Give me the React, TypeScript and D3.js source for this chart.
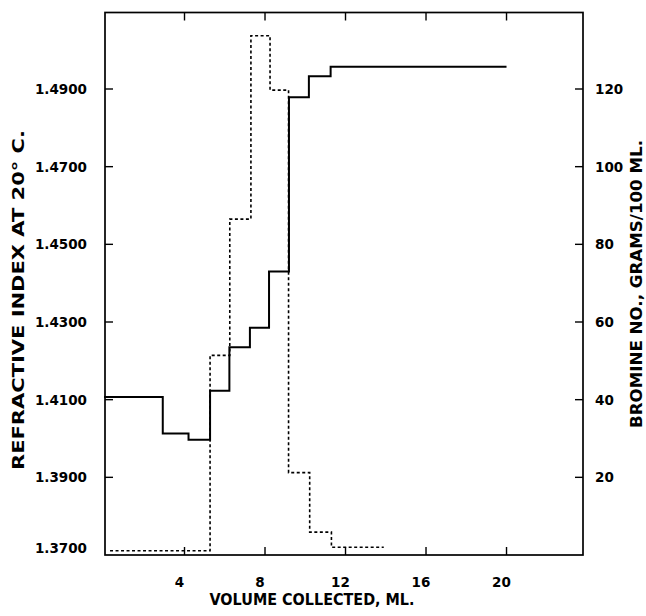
import React from "react";
import * as d3 from "d3";

// Fraction boundaries (ml collected) and refractive index of each fraction
const riEdges = [0, 2.92, 4.2, 5.27, 6.23, 7.25, 8.2, 9.19, 10.18, 11.26, 20];
const riValues = [1.4107, 1.4013, 1.3997, 1.4123, 1.4235, 1.4285, 1.443, 1.4879, 1.4933, 1.4957];

// Fraction boundaries (ml collected) and bromine number of each fraction
const brEdges = [0.3, 5.27, 6.25, 7.3, 8.25, 9.17, 10.22, 11.3, 13.9];
const brValues = [1.1, 51.4, 86.5, 133.7, 119.7, 21.2, 5.9, 2.0];

const xTicks = [4, 8, 12, 16, 20];
const leftTicks = [1.37, 1.39, 1.41, 1.43, 1.45, 1.47, 1.49];
const rightTicks = [20, 40, 60, 80, 100, 120];

const W = 646;
const H = 616;
const L = 105;
const R = 583;
const T = 12.5;
const B = 555;

const FONT = "'DejaVu Sans', sans-serif";

function stepPoints(edges: number[], values: number[]): [number, number][] {
  const pts: [number, number][] = values.map((v, i) => [edges[i], v]);
  pts.push([edges[edges.length - 1], values[values.length - 1]]);
  return pts;
}

export default function App() {
  const x = d3.scaleLinear().domain([0, 23.8]).range([104, R]);
  const yL = d3.scaleLinear().domain([1.37, 1.5097]).range([B, T]);
  const yR = d3.scaleLinear().domain([0, 139.7]).range([B, T]);

  const riLine = d3
    .line<[number, number]>()
    .x((d) => x(d[0]))
    .y((d) => yL(d[1]))
    .curve(d3.curveStepAfter);
  const brLine = d3
    .line<[number, number]>()
    .x((d) => x(d[0]))
    .y((d) => yR(d[1]))
    .curve(d3.curveStepAfter);

  return (
    <svg
      width={W}
      height={H}
      viewBox={`0 0 ${W} ${H}`}
      style={{ position: "absolute", left: 0, top: 0, background: "#fff" }}
    >
      {/* frame */}
      <rect x={L} y={T} width={R - L} height={B - T} fill="none" stroke="#000" strokeWidth={1.7} />

      {/* x ticks, top and bottom, pointing inward */}
      {xTicks.map((t) => (
        <g key={`xt${t}`}>
          <line x1={x(t)} x2={x(t)} y1={T} y2={T + 8} stroke="#000" strokeWidth={1.4} />
          <line x1={x(t)} x2={x(t)} y1={B} y2={B - 8} stroke="#000" strokeWidth={1.4} />
          <text
            x={x(t) - 5}
            y={587}
            textAnchor="middle"
            fontFamily={FONT}
            fontWeight="bold"
            fontSize={13.5}
            fill="#000"
          >
            {t}
          </text>
        </g>
      ))}

      {/* left axis: refractive index */}
      {leftTicks.map((t, i) => (
        <g key={`lt${t}`}>
          {i > 0 && <line x1={L} x2={L + 8} y1={yL(t)} y2={yL(t)} stroke="#000" strokeWidth={1.4} />}
          <text
            x={87}
            y={yL(t) + (i === 0 ? -7 : 0)}
            dy="0.36em"
            textAnchor="end"
            fontFamily={FONT}
            fontWeight="bold"
            fontSize={13.5}
            fill="#000"
          >
            {t.toFixed(4)}
          </text>
        </g>
      ))}

      {/* right axis: bromine number */}
      {rightTicks.map((t) => (
        <g key={`rt${t}`}>
          <line x1={R} x2={R - 8} y1={yR(t)} y2={yR(t)} stroke="#000" strokeWidth={1.4} />
          <text
            x={595}
            y={yR(t)}
            dy="0.36em"
            textAnchor="start"
            fontFamily={FONT}
            fontWeight="bold"
            fontSize={13.5}
            fill="#000"
          >
            {t}
          </text>
        </g>
      ))}

      {/* refractive index steps */}
      <path d={riLine(stepPoints(riEdges, riValues)) || ""} fill="none" stroke="#000" strokeWidth={2} />

      {/* bromine number steps */}
      <path
        d={brLine(stepPoints(brEdges, brValues)) || ""}
        fill="none"
        stroke="#000"
        strokeWidth={1.6}
        strokeDasharray="3,2.5"
      />

      {/* axis titles */}
      <text
        transform={`translate(24, 300) rotate(-90)`}
        textAnchor="middle"
        fontFamily={FONT}
        fontWeight="bold"
        fontSize={15}
        textLength={340}
        lengthAdjust="spacingAndGlyphs"
        fill="#000"
      >
        REFRACTIVE INDEX AT 20° C.
      </text>
      <text
        transform={`translate(642, 284) rotate(-90)`}
        textAnchor="middle"
        fontFamily={FONT}
        fontWeight="bold"
        fontSize={15}
        textLength={288}
        lengthAdjust="spacingAndGlyphs"
        fill="#000"
      >
        BROMINE NO., GRAMS/100 ML.
      </text>
      <text
        x={312}
        y={605}
        textAnchor="middle"
        fontFamily={FONT}
        fontWeight="bold"
        fontSize={16}
        textLength={205}
        lengthAdjust="spacingAndGlyphs"
        fill="#000"
      >
        VOLUME COLLECTED, ML.
      </text>
    </svg>
  );
}
